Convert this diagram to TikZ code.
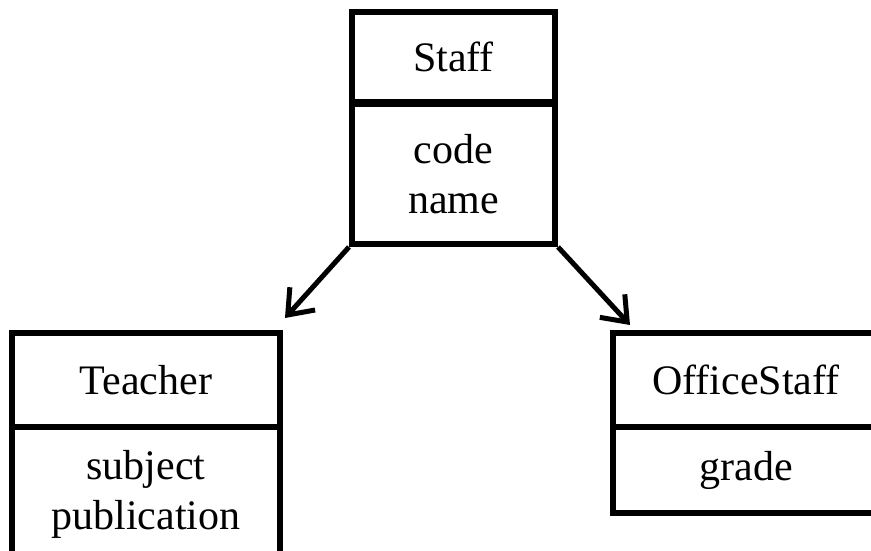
\documentclass[tikz,border=0pt]{standalone}
\usepackage{fontspec}
\setmainfont{Liberation Serif}
\usetikzlibrary{arrows.meta}
\begin{document}
\begin{tikzpicture}[x=1pt,y=-1pt,
  box/.style={draw=black,line width=6pt,rectangle,inner sep=0pt,align=center,
    font=\fontsize{42}{50}\selectfont},
  conn/.style={line width=5pt,-{Straight Barb[length=22pt,width=34pt,line width=5pt]}}]
\useasboundingbox (0,0) rectangle (871,551);
\clip (0,0) rectangle (871,551);
\fill[white] (0,0) rectangle (871,551);
% Staff
\node[box,minimum width=203pt,minimum height=90pt] (staffhead) at (453.5,57) {Staff};
\node[box,minimum width=203pt,minimum height=140pt] (staffattr) at (453.5,174) {code\\name};
% Teacher
\node[box,minimum width=268pt,minimum height=94pt] (teacherhead) at (146,380) {Teacher};
\node[box,minimum width=268pt,minimum height=134pt] (teacherattr) at (146,494) {subject\\publication};
% OfficeStaff
\node[box,minimum width=266pt,minimum height=94pt] (officehead) at (746,380) {OfficeStaff};
\node[box,minimum width=266pt,minimum height=86pt] (officeattr) at (746,470) {grade};
% connectors
\coordinate (tA) at ([shift={(2,-12)}]teacherhead.north east);
\coordinate (tB) at ([shift={(20,-5)}]officehead.north west);
\draw[conn] (staffattr.south west) -- (tA);
\draw[conn] (staffattr.south east) -- (tB);
\end{tikzpicture}
\end{document}
